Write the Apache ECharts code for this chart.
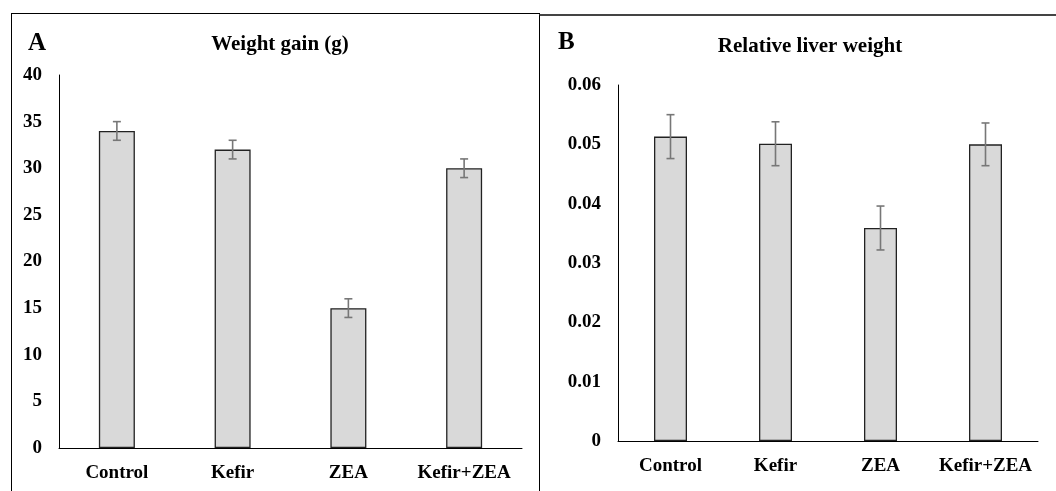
<!DOCTYPE html>
<html>
<head>
<meta charset="utf-8">
<script src="https://cdn.jsdelivr.net/npm/echarts@6/dist/echarts.min.js"></script>
<style>
  html, body { margin: 0; padding: 0; background: #fff; }
  #wrap { position: relative; width: 1056px; height: 491px; overflow: hidden; }
  #panelA { position: absolute; left: 11px; top: 13px; width: 527px; height: 500px;
            border-left: 1px solid #000; border-top: 1px solid #000; border-right: 1px solid #000; }
  #panelB { position: absolute; left: 539px; top: 14px; width: 520px; height: 500px;
            border-left: 1px solid #000; border-top: 2px solid #444; }
  #chart { position: absolute; left: 0; top: 0; width: 1056px; height: 491px; }
</style>
</head>
<body>
<div id="wrap">
  <div id="panelA"></div>
  <div id="panelB"></div>
  <div id="chart"></div>
</div>
<script>
// groups on both panels
const categories = ['Control', 'Kefir', 'ZEA', 'Kefir+ZEA'];

// A: weight gain (g), mean and error
const weightGain = [34, 32, 15, 30];
const weightErr = [1, 1, 1, 1];

// B: relative liver weight, mean and error
const liverWeight = [0.0513, 0.0501, 0.0359, 0.0500];
const liverErr = [0.0037, 0.0037, 0.0037, 0.0036];

const font = 'Liberation Serif';

function errData(vals, errs) {
  return vals.map((v, i) => [i, v - errs[i], v + errs[i]]);
}

function errorSeries(xIdx, yIdx, data) {
  return {
    type: 'custom',
    xAxisIndex: xIdx,
    yAxisIndex: yIdx,
    data: data,
    z: 10,
    renderItem: function (params, api) {
      const lo = api.coord([api.value(0), api.value(1)]);
      const hi = api.coord([api.value(0), api.value(2)]);
      const w = 4;
      const style = { stroke: '#777', lineWidth: 1.6 };
      return {
        type: 'group',
        children: [
          { type: 'line', shape: { x1: hi[0], y1: hi[1], x2: lo[0], y2: lo[1] }, style: style },
          { type: 'line', shape: { x1: hi[0] - w, y1: hi[1], x2: hi[0] + w, y2: hi[1] }, style: style },
          { type: 'line', shape: { x1: lo[0] - w, y1: lo[1], x2: lo[0] + w, y2: lo[1] }, style: style }
        ]
      };
    }
  };
}

function xAxis(gridIndex) {
  return {
    type: 'category',
    gridIndex: gridIndex,
    data: categories,
    axisLine: { lineStyle: { color: '#000', width: 1 } },
    axisTick: { show: false },
    axisLabel: { interval: 0, color: '#000', fontFamily: font, fontWeight: 'bold', fontSize: 19, margin: 16 }
  };
}

function yAxis(gridIndex, max, interval, fmt) {
  return {
    type: 'value',
    gridIndex: gridIndex,
    min: 0,
    max: max,
    interval: interval,
    splitLine: { show: false },
    axisTick: { show: false },
    axisLine: { show: true, lineStyle: { color: '#000', width: 1 } },
    axisLabel: { color: '#000', fontFamily: font, fontWeight: 'bold', fontSize: 19, margin: 17, formatter: fmt }
  };
}

const chart = echarts.init(document.getElementById('chart'));
chart.setOption({
  animation: false,
  title: [
    { text: 'A', left: 23, top: 26, textStyle: { fontFamily: font, fontWeight: 'bold', fontSize: 25, color: '#000' } },
    { text: 'Weight gain (g)', left: 275, textAlign: 'center', top: 29, textStyle: { fontFamily: font, fontWeight: 'bold', fontSize: 21, color: '#000' } },
    { text: 'B', left: 553, top: 25, textStyle: { fontFamily: font, fontWeight: 'bold', fontSize: 25, color: '#000' } },
    { text: 'Relative liver weight', left: 805, textAlign: 'center', top: 31, textStyle: { fontFamily: font, fontWeight: 'bold', fontSize: 21, color: '#000' } }
  ],
  grid: [
    { left: 59, right: 1056 - 522, top: 75, bottom: 491 - 448 },
    { left: 618, right: 1056 - 1038, top: 85, bottom: 491 - 441 }
  ],
  xAxis: [xAxis(0), xAxis(1)],
  yAxis: [
    yAxis(0, 40, 5),
    yAxis(1, 0.06, 0.01, v => (v === 0 ? '0' : v.toFixed(2)))
  ],
  series: [
    {
      type: 'bar', xAxisIndex: 0, yAxisIndex: 0, data: weightGain, barWidth: 36,
      itemStyle: { color: '#d9d9d9', borderColor: '#222', borderWidth: 1.3 }
    },
    errorSeries(0, 0, errData(weightGain, weightErr)),
    {
      type: 'bar', xAxisIndex: 1, yAxisIndex: 1, data: liverWeight, barWidth: 33,
      itemStyle: { color: '#d9d9d9', borderColor: '#222', borderWidth: 1.3 }
    },
    errorSeries(1, 1, errData(liverWeight, liverErr))
  ]
});
</script>
</body>
</html>
